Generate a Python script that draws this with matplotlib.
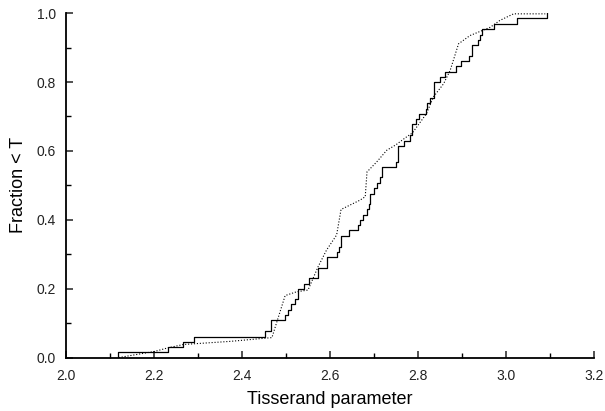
import matplotlib
matplotlib.use('Agg')
from matplotlib import pyplot as plt
from matplotlib.ticker import MultipleLocator

plt.rcParams['font.family'] = ['Liberation Sans', 'DejaVu Sans']

# solid curve: step positions and the fraction reached after each step
t_solid = [2.118, 2.231, 2.267, 2.291, 2.453, 2.467, 2.498, 2.505, 2.511, 2.520,
           2.527, 2.528, 2.541, 2.553, 2.572, 2.593, 2.616, 2.621, 2.626, 2.642,
           2.663, 2.668, 2.674, 2.685, 2.688, 2.691, 2.701, 2.707, 2.713, 2.718,
           2.750, 2.754, 2.769, 2.782, 2.786, 2.795, 2.803, 2.817, 2.820, 2.827,
           2.837, 2.850, 2.862, 2.886, 2.897, 2.916, 2.923, 2.937, 2.941, 2.946,
           2.972, 3.025, 3.092]
f_solid = [0.0155, 0.031, 0.046, 0.061, 0.077, 0.108, 0.123, 0.138, 0.155, 0.170,
           0.186, 0.200, 0.215, 0.231, 0.261, 0.291, 0.307, 0.322, 0.353, 0.369,
           0.384, 0.399, 0.415, 0.430, 0.445, 0.476, 0.491, 0.507, 0.523, 0.554,
           0.569, 0.615, 0.630, 0.646, 0.677, 0.692, 0.708, 0.723, 0.739, 0.754,
           0.800, 0.815, 0.830, 0.846, 0.861, 0.877, 0.908, 0.923, 0.938, 0.954,
           0.969, 0.985, 1.000]

# dotted curve
t_dot = [2.120, 2.202, 2.231, 2.267, 2.373, 2.468, 2.498, 2.524, 2.550, 2.573,
         2.592, 2.615, 2.625, 2.668, 2.680, 2.684, 2.706, 2.729, 2.750, 2.772,
         2.787, 2.819, 2.835, 2.858, 2.873, 2.892, 2.918, 2.964, 2.986, 3.017,
         3.089]
f_dot = [0.0, 0.018, 0.028, 0.038, 0.047, 0.058, 0.180, 0.191, 0.196, 0.264,
         0.312, 0.356, 0.430, 0.457, 0.467, 0.539, 0.568, 0.602, 0.618, 0.639,
         0.652, 0.708, 0.757, 0.795, 0.834, 0.911, 0.935, 0.959, 0.979, 0.998,
         0.998]

fig = plt.figure(figsize=(6.05, 4.11), dpi=100)
ax = fig.add_axes([0.109, 0.130, 0.873, 0.838])

ax.plot([t_solid[0]] + t_solid, [0.0] + f_solid, color='black', lw=0.9,
        drawstyle='steps-post')
ax.plot(t_dot, f_dot, color='black', lw=0.8, linestyle=':')

ax.set_xlim(2.0, 3.2)
ax.set_ylim(0.0, 1.0)
ax.xaxis.set_major_locator(MultipleLocator(0.2))
ax.xaxis.set_minor_locator(MultipleLocator(0.1))
ax.yaxis.set_major_locator(MultipleLocator(0.2))
ax.yaxis.set_minor_locator(MultipleLocator(0.1))
ax.xaxis.set_major_formatter(matplotlib.ticker.FormatStrFormatter('%.1f'))
ax.yaxis.set_major_formatter(matplotlib.ticker.FormatStrFormatter('%.1f'))

ax.spines['top'].set_visible(False)
ax.spines['right'].set_visible(False)
ax.spines['left'].set_linewidth(1.3)
ax.spines['bottom'].set_linewidth(1.3)
ax.tick_params(which='major', direction='in', length=5, width=1.1,
               labelsize=10, colors='#222222')
ax.tick_params(axis='x', which='major', pad=8)
ax.tick_params(axis='y', which='major', pad=7)
ax.tick_params(which='minor', direction='in', length=3.5, width=1.0)

ax.set_xlabel('Tisserand parameter', fontsize=13, labelpad=6)
ax.set_ylabel('Fraction < T', fontsize=13, labelpad=7)

plt.savefig('out.png', dpi=100)
